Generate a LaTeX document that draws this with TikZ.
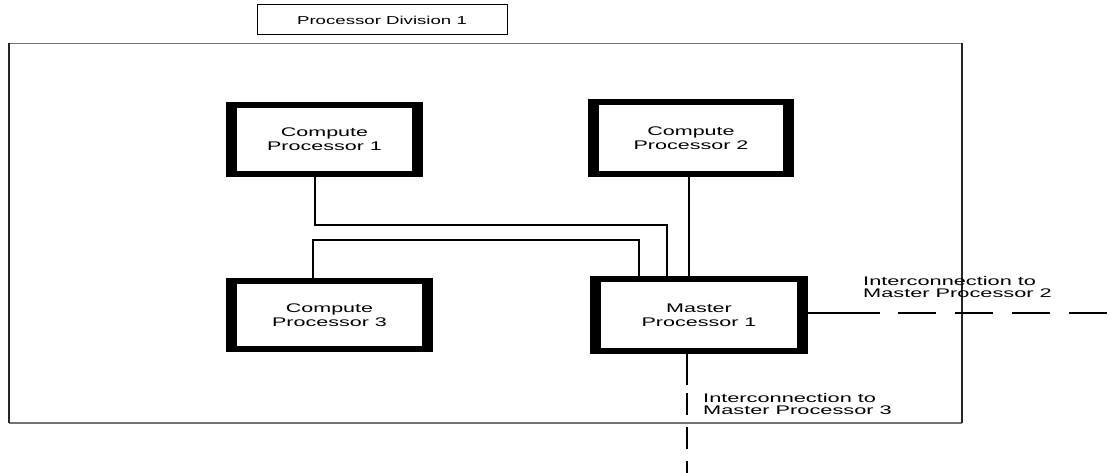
\documentclass[tikz,border=0pt]{standalone}
\usepackage{fontspec}
\usepackage{graphicx}
\setmainfont{Liberation Sans}
\newcommand\stnode[1]{\scalebox{1.72}[1]{#1}}
\newcommand\stlabel[1]{\scalebox{1.74}[1]{#1}}
\newcommand\sttitle[1]{\scalebox{1.62}[1]{#1}}
\begin{document}
\begin{tikzpicture}[x=1pt,y=-1pt,
  proc/.style={draw=black,line width=6pt,fill=white,outer sep=3pt,inner sep=0pt,
    align=center,font=\fontsize{12.5}{14}\selectfont},
  wire/.style={line width=1.6pt,black},
  dashwire/.style={line width=1.6pt,black,dash pattern=on 38pt off 19pt},
  dashwireb/.style={line width=1.6pt,black,dash pattern=on 22pt off 12pt},
  lbl/.style={align=left,inner sep=0pt,anchor=north west,font=\fontsize{12.5}{12.5}\selectfont},
  titlebox/.style={draw=black,line width=1pt,minimum width=250pt,minimum height=30pt,inner sep=0pt,outer sep=0pt,font=\fontsize{11.5}{13}\selectfont}
]
\useasboundingbox (0,0) rectangle (1111,473);
% outer frame
\draw[line width=1.3pt,black!55] (9,43.5) -- (962,43.5);
\draw[line width=1.3pt,black!55] (9,423) -- (962,423);
\draw[line width=1.4pt,black!85] (9,43.5) -- (9,423);
\draw[line width=1.4pt,black!85] (962,43.5) -- (962,423);
% title
\node[titlebox] (title) at (382,20) {\sttitle{Processor Division 1}};
% processors (outer size minus 6 for line width)
\node[proc,minimum width=191pt,minimum height=69pt] (cp1) at (324.5,139.5) {\stnode{Compute}\\\stnode{Processor 1}};
\node[proc,minimum width=200pt,minimum height=72pt] (cp2) at (691,138) {\stnode{Compute}\\\stnode{Processor 2}};
\node[proc,minimum width=201pt,minimum height=68pt] (cp3) at (329.5,315) {\stnode{Compute}\\\stnode{Processor 3}};
\node[proc,minimum width=212pt,minimum height=72pt] (mp) at (699,315) {\stnode{Master}\\\stnode{Processor 1}};
% thick side bars
\foreach \n in {cp1,cp2,cp3,mp}{
  \fill[black] (\n.north west) rectangle ([xshift=11pt]\n.south west);
  \fill[black] ([xshift=-11pt]\n.north east) rectangle (\n.south east);
}
% connectors
\draw[wire] ([xshift=-9.5pt]cp1.south) -- ++(0,48) -| ([xshift=-32pt]mp.north);
\draw[wire] ([xshift=-16.5pt]cp3.north) -- ++(0,-38) -| ([xshift=-60pt]mp.north);
\draw[wire] ([xshift=-10pt]mp.north |- cp2.south) -- ([xshift=-10pt]mp.north);
% interconnections
\coordinate (e1) at (880,313);
\coordinate (e2) at (1111,313);
\draw[wire] (mp.east |- e1) -- (e1);
\draw[dashwire] ([xshift=18pt]e1) -- (e2);
\coordinate (s1) at (687,385);
\coordinate (s2) at (687,473);
\draw[wire] ([xshift=-12pt]mp.south) -- (s1);
\draw[dashwireb] ([yshift=-8pt]s1) -- (s2);
% labels
\node[lbl] (l2) at (863,276) {\stlabel{Interconnection to}\\\stlabel{Master Processor 2}};
\node[lbl] (l3) at (703,393) {\stlabel{Interconnection to}\\\stlabel{Master Processor 3}};
\end{tikzpicture}
\end{document}
